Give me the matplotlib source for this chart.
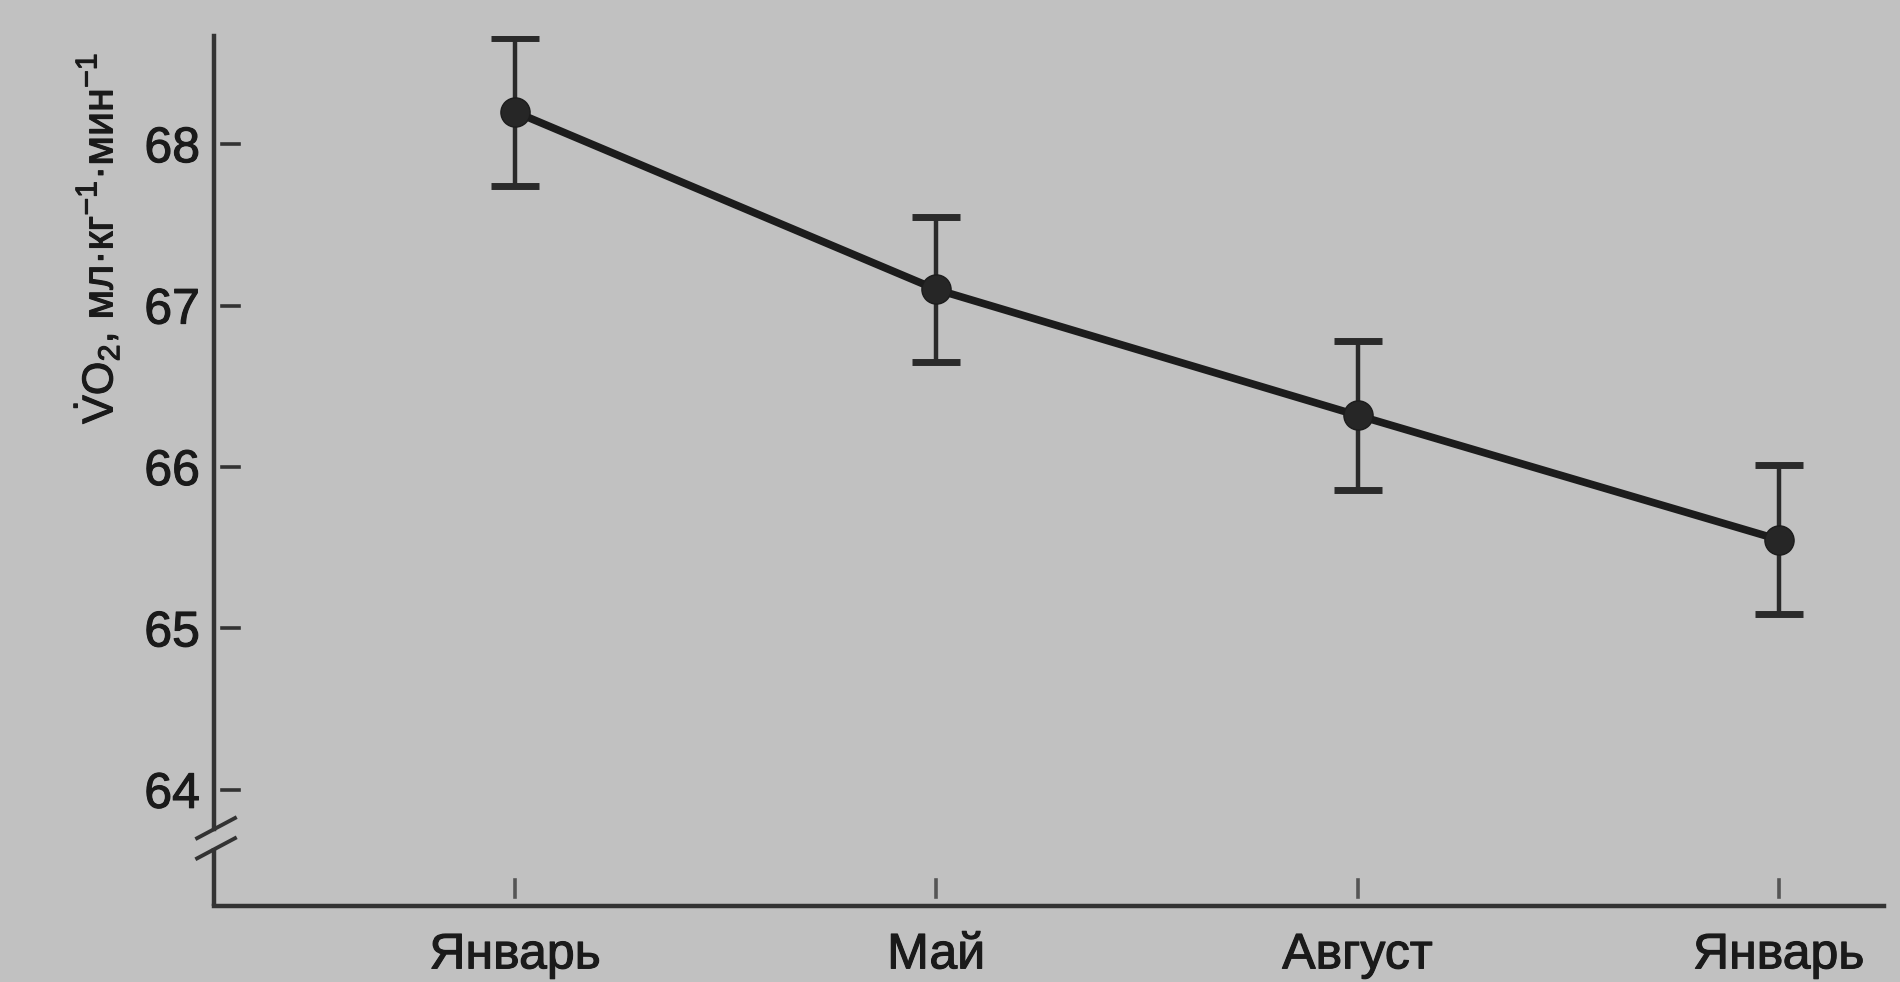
import matplotlib.pyplot as plt
import matplotlib.transforms as mtransforms
import matplotlib.patheffects as pe

plt.rcParams['font.family'] = ['Liberation Sans', 'DejaVu Sans']
plt.rcParams['mathtext.fontset'] = 'custom'
plt.rcParams['mathtext.rm'] = 'Liberation Sans'
plt.rcParams['mathtext.it'] = 'Liberation Sans:italic'

# data
months = ['Январь', 'Май', 'Август', 'Январь']
vo2 = [68.2, 67.1, 66.32, 65.55]
vo2_err = [0.46, 0.45, 0.46, 0.46]
yticks = [64, 65, 66, 67, 68]
ylabel = r'$\dot{\mathrm{V}}\mathrm{O}_2$, мл·кг$^{-1}$·мин$^{-1}$'

bg = '#c1c1c1'
ink = '#1c1c1c'
heavy = [pe.withStroke(linewidth=0.8, foreground='#1a1a1a')]

fig = plt.figure(figsize=(19, 9.82), dpi=100, facecolor=bg)
ax = fig.add_axes([0.1126, 0.0774, 0.8790, 0.8859], facecolor=bg)

x = list(range(len(months)))
ax.errorbar(x, vo2, yerr=vo2_err, fmt='none', ecolor='#2a2a2a',
            elinewidth=3.2, capsize=17, capthick=5, zorder=2)
ax.plot(x, vo2, color=ink, linewidth=5.5, marker='o', markersize=21,
        markerfacecolor='#262626', markeredgecolor=ink, zorder=3)

ax.set_xlim(-0.715, 3.25)
ax.set_ylim(63.28, 68.67)

# axes with a break in the y axis
for s in ['top', 'right']:
    ax.spines[s].set_visible(False)
ax.spines['left'].set_bounds(63.76, 68.67)
ax.spines['left'].set_linewidth(3.2)
ax.spines['left'].set_color('#333333')
ax.spines['bottom'].set_linewidth(3.2)
ax.spines['bottom'].set_color('#333333')
ax.plot([-0.715, -0.715], [63.28, 63.64], color='#333333', linewidth=3.2,
        clip_on=False, solid_capstyle='butt')
ax.plot([-0.755, -0.665], [63.575, 63.70], color='#333333', linewidth=2.8, clip_on=False)
ax.plot([-0.755, -0.665], [63.70, 63.825], color='#333333', linewidth=2.8, clip_on=False)

# detached short tick dashes
ax.set_yticks(yticks)
ax.set_xticks(x)
ax.set_xticklabels(months)
ax.tick_params(axis='both', length=0, labelsize=36, labelcolor='#1a1a1a')
ax.tick_params(axis='y', pad=10)
ax.tick_params(axis='x', pad=19)
for lab in ax.get_xticklabels() + ax.get_yticklabels():
    lab.set_path_effects(heavy)
ytr = mtransforms.blended_transform_factory(ax.transAxes, ax.transData)
for yv in yticks:
    ax.plot([0.005, 0.015], [yv, yv], color='#333333', linewidth=2.6,
            transform=ytr, clip_on=False)
xtr = mtransforms.blended_transform_factory(ax.transData, ax.transAxes)
for xv in x:
    ax.plot([xv, xv], [0.010, 0.030], color='#555555', linewidth=2.6,
            transform=xtr, clip_on=False)

fig.text(0.051, 0.757, ylabel, rotation=90, ha='center', va='center',
         fontsize=31, color='#1a1a1a', path_effects=heavy)

fig.savefig('out.png', dpi=100, facecolor=bg)
